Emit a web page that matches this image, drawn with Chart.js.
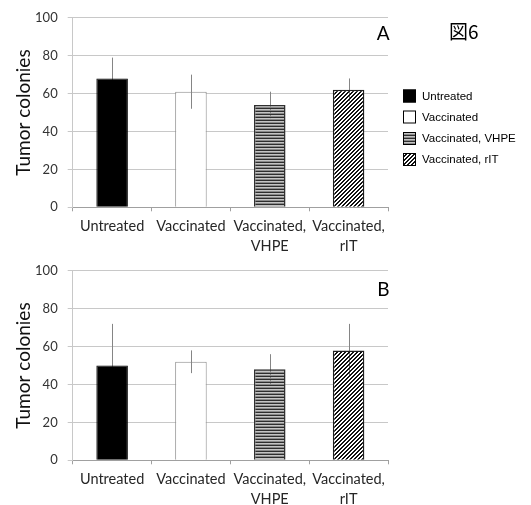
<!DOCTYPE html>
<html>
<head>
<meta charset="utf-8">
<script src="https://cdn.jsdelivr.net/npm/chart.js@4/dist/chart.umd.min.js"></script>
<style>
  html, body { margin:0; padding:0; background:#fff; overflow:hidden; }
  #wrap { position:relative; width:531px; height:505px; }
  canvas { position:absolute; left:0; }
</style>
</head>
<body>
<div id="wrap">
  <canvas id="cA" width="531" height="253" style="top:0"></canvas>
  <canvas id="cB" width="531" height="252" style="top:253px"></canvas>
</div>
<script>
// ---- data ----
const categories = ['Untreated', 'Vaccinated', ['Vaccinated,', 'VHPE'], ['Vaccinated,', 'rIT']];
const legendLabels = ['Untreated', 'Vaccinated', 'Vaccinated, VHPE', 'Vaccinated, rIT'];
const valuesA = [68, 61, 54, 62];
const errorsA = [11, 9, 7, 6];
const valuesB = [50, 52, 48, 58];
const errorsB = [22, 6, 8, 14];
const yTicks = [0, 20, 40, 60, 80, 100];
const yTitle = 'Tumor colonies';
const figLabel = '図6';

// ---- patterns ----
function makePattern(w, h, draw) {
  const c = document.createElement('canvas');
  c.width = w; c.height = h;
  const g = c.getContext('2d');
  draw(g);
  return g.createPattern(c, 'repeat');
}
const patH = makePattern(4, 3, g => {
  g.fillStyle = '#2e2e2e'; g.fillRect(0, 0, 4, 1);
  g.fillStyle = '#c4c4c4'; g.fillRect(0, 1, 4, 1);
  g.fillStyle = '#8a8a8a'; g.fillRect(0, 2, 4, 1);
});
const patD = makePattern(4, 4, g => {
  g.fillStyle = '#ffffff'; g.fillRect(0, 0, 4, 4);
  g.fillStyle = '#111111';
  for (let y = 0; y < 4; y++) {
    g.fillRect(3 - y, y, 1, 1);
    g.fillRect((4 - y) % 4, y, 1, 1);
  }
});
const fills = ['#000000', '#ffffff', patH, patD];
const borders = ['#000000', '#8c8c8c', '#303030', '#202020'];

// ---- plugins ----
const errorBars = {
  id: 'errorBars',
  afterDatasetsDraw(chart, args, opts) {
    const meta = chart.getDatasetMeta(0);
    const ys = chart.scales.y;
    const ctx = chart.ctx;
    ctx.save();
    ctx.globalCompositeOperation = 'darken';
    ctx.strokeStyle = '#858585';
    ctx.lineWidth = 1;
    opts.errors.forEach((e, i) => {
      const v = chart.data.datasets[0].data[i];
      const x = Math.round(meta.data[i].x) + 0.5;
      ctx.beginPath();
      ctx.moveTo(x, ys.getPixelForValue(v + e));
      ctx.lineTo(x, ys.getPixelForValue(v - e));
      ctx.stroke();
    });
    ctx.restore();
  }
};

const decorations = {
  id: 'decorations',
  afterDraw(chart, args, opts) {
    const ctx = chart.ctx;
    ctx.save();
    ctx.fillStyle = '#000';
    ctx.font = '19px Lato';
    ctx.textAlign = 'right';
    ctx.textBaseline = 'alphabetic';
    ctx.fillText(opts.letter, opts.letterX, opts.letterY);
    if (opts.legend) {
      ctx.textAlign = 'left';
      ctx.font = '19px "Noto Sans CJK JP"';
      ctx.textBaseline = 'middle';
      ctx.fillText(figLabel, 449, 32);
      ctx.font = '11.5px "Liberation Sans"';
      const rows = [96, 117, 138.5, 159.5];
      legendLabels.forEach((lab, i) => {
        const y = rows[i];
        ctx.fillStyle = fills[i];
        ctx.fillRect(403, y - 6.5, 13, 13);
        ctx.strokeStyle = '#000';
        ctx.lineWidth = 1;
        ctx.strokeRect(403.5, y - 6, 12, 12);
        ctx.fillStyle = '#000';
        ctx.fillText(lab, 422, y + 0.5);
      });
    }
    ctx.restore();
  }
};

function makeChart(id, values, errors, padTop, xHeight, letter, letterY, legend) {
  return new Chart(document.getElementById(id), {
    type: 'bar',
    data: {
      labels: categories,
      datasets: [{
        data: values,
        backgroundColor: fills,
        borderColor: borders,
        borderWidth: [1, 1, 1.5, 1.5],
        categoryPercentage: 1.0,
        barPercentage: 0.4
      }]
    },
    options: {
      responsive: false,
      animation: false,
      devicePixelRatio: 1,
      layout: { padding: { top: padTop, right: 143, bottom: 0, left: 0 } },
      plugins: {
        legend: { display: false },
        tooltip: { enabled: false },
        errorBars: { errors: errors },
        decorations: { letter: letter, letterX: 389.5, letterY: letterY, legend: legend }
      },
      scales: {
        x: {
          afterFit(s) { s.height = xHeight; },
          grid: { offset: true, drawOnChartArea: false, drawTicks: true, tickLength: 4, color: '#a0a0a0' },
          border: { color: '#a0a0a0' },
          ticks: {
            font: { family: 'Lato', size: 14.5, lineHeight: 1.38 },
            color: '#262626',
            padding: 5,
            maxRotation: 0,
            autoSkip: false
          }
        },
        y: {
          min: 0, max: 100,
          afterFit(s) { s.width = 72.7; },
          afterBuildTicks(s) { s.ticks = yTicks.map(v => ({ value: v })); },
          grid: { color: '#c8c8c8', tickLength: 5 },
          border: { color: '#c8c8c8' },
          ticks: {
            font: { family: 'Lato', size: 13 },
            color: '#333',
            padding: 10
          },
          title: {
            display: true,
            text: yTitle,
            font: { family: 'Lato', size: 19 },
            color: '#111',
            padding: { top: 12, bottom: 0 }
          }
        }
      }
    },
    plugins: [errorBars, decorations]
  });
}

makeChart('cA', valuesA, errorsA, 17.3, 253 - 207.3, 'A', 40, true);
makeChart('cB', valuesB, errorsB, 17.7, 252 - 207.3, 'B', 43, false);
</script>
</body>
</html>
